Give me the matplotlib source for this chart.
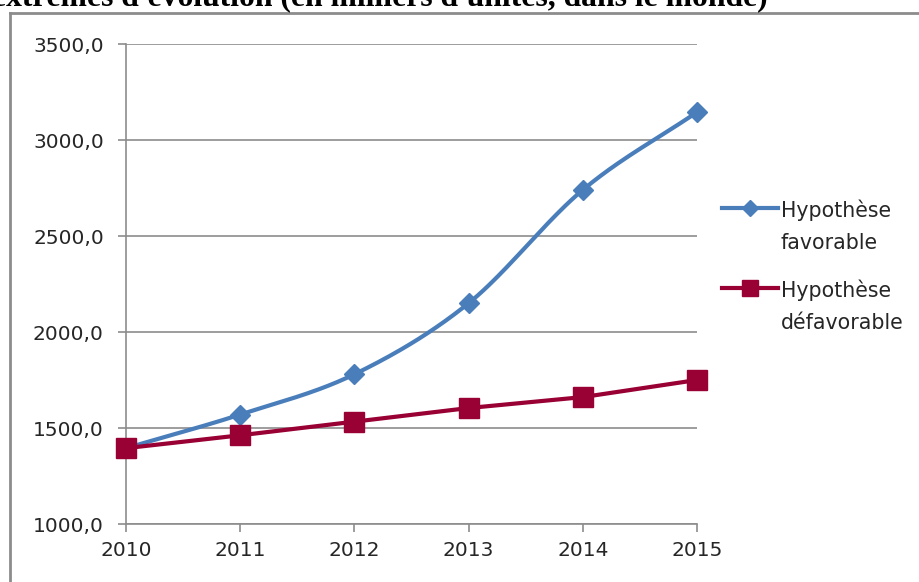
import numpy as np
import matplotlib
matplotlib.use("Agg")
import matplotlib.pyplot as plt
from matplotlib.lines import Line2D

years = [2010, 2011, 2012, 2013, 2014, 2015]
favorable = [1395, 1570, 1780, 2150, 2740, 3145]
defavorable = [1395, 1462, 1533, 1604, 1661, 1750]
yticks = [1000, 1500, 2000, 2500, 3000, 3500]
ytick_labels = ["1000,0", "1500,0", "2000,0", "2500,0", "3000,0", "3500,0"]
legend_labels = ["Hypothèse\nfavorable", "Hypothèse\ndéfavorable"]
title = "extrêmes d'évolution (en milliers d'unités, dans le monde)"

BLUE = "#4A7EBB"
RED = "#990033"
GRID = "#8C8C8C"
TEXT = "#262626"
FONT = ["DejaVu Sans"]


def smooth(xs, ys, n=40):
    """Catmull-Rom curve through the points (Excel-style smoothed line)."""
    x = np.asarray(xs, float)
    y = np.asarray(ys, float)
    px = np.concatenate([[2 * x[0] - x[1]], x, [2 * x[-1] - x[-2]]])
    py = np.concatenate([[2 * y[0] - y[1]], y, [2 * y[-1] - y[-2]]])
    outx, outy = [], []
    t = np.linspace(0, 1, n)
    for i in range(1, len(px) - 2):
        for p, out in ((px, outx), (py, outy)):
            p0, p1, p2, p3 = p[i - 1], p[i], p[i + 1], p[i + 2]
            out.extend(0.5 * ((2 * p1) + (-p0 + p2) * t
                              + (2 * p0 - 5 * p1 + 4 * p2 - p3) * t ** 2
                              + (-p0 + 3 * p1 - 3 * p2 + p3) * t ** 3))
    return np.array(outx), np.array(outy)


W, H = 920, 582
fig = plt.figure(figsize=(W / 100, H / 100), dpi=100)
fig.patch.set_facecolor("white")

# plot area
ax = fig.add_axes([126 / W, 1 - 524 / H, (697 - 126) / W, (524 - 44) / H])
ax.set_xlim(2010, 2015)
ax.set_ylim(1000, 3500)
ax.set_yticks(yticks)
ax.set_yticklabels(ytick_labels)
ax.set_xticks(years)
ax.set_xticklabels([str(y) for y in years])
for lab in ax.get_xticklabels() + ax.get_yticklabels():
    lab.set_family(FONT)
    lab.set_fontsize(14.5)
    lab.set_color(TEXT)
ax.tick_params(axis="both", length=6, width=1.2, color=GRID)
ax.tick_params(axis="y", pad=10)
ax.tick_params(axis="x", pad=6)
for s in ("top", "right"):
    ax.spines[s].set_visible(False)
for s in ("left", "bottom"):
    ax.spines[s].set_color(GRID)
    ax.spines[s].set_linewidth(1.2)
ax.grid(axis="y", color=GRID, linewidth=1.2)
ax.set_axisbelow(True)

# series
sx, sy = smooth(years, favorable)
ax.plot(sx, sy, color=BLUE, lw=3, solid_capstyle="round", zorder=3, clip_on=False)
ax.plot(years, favorable, ls="none", marker="D", ms=10.5, color=BLUE,
        zorder=4, clip_on=False)
ax.plot(years, defavorable, color=RED, lw=3, marker="s", ms=15,
        zorder=5, clip_on=False)

# legend
handles = [(BLUE, "D", 8), (RED, "s", 11)]
for i, ((c, m, ms), lab) in enumerate(zip(handles, legend_labels)):
    yc = 1 - (208 + i * 80) / H
    fig.add_artist(Line2D([722 / W, 778 / W], [yc, yc], color=c, lw=3,
                          transform=fig.transFigure))
    fig.add_artist(Line2D([750 / W], [yc], marker=m, ms=ms, color=c,
                          ls="none", transform=fig.transFigure))
    fig.text(781 / W, yc + 9 / H, lab, ha="left", va="top", fontsize=14.8,
             family=FONT, color=TEXT, linespacing=1.8)

# chart frame
fig.add_artist(Line2D([10 / W, 10 / W], [0, 1 - 13 / H], color=GRID, lw=2,
                      transform=fig.transFigure))
fig.add_artist(Line2D([10 / W, 1], [1 - 13 / H, 1 - 13 / H], color=GRID, lw=2,
                      transform=fig.transFigure))

# heading above the chart (partly outside the canvas)
fig.text(-8 / W, 1 - 5 / H, title, ha="left", va="baseline", fontsize=22.8,
         family="Liberation Serif", weight="bold", color="black")

fig.savefig("out.png", dpi=100)
